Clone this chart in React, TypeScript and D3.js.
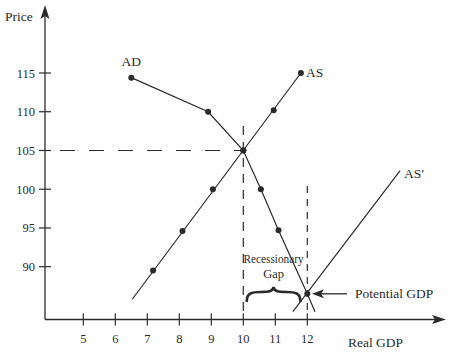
import React from "react";
import * as d3 from "d3";

const xTicks = [5, 6, 7, 8, 9, 10, 11, 12];
const yTicks = [90, 95, 100, 105, 110, 115];

// Aggregate demand curve (gdp, price)
const adLine: [number, number][] = [
  [6.5, 114.4], [8.9, 110], [10, 105], [10.55, 100], [11.1, 94.7], [12, 86.5], [12.24, 84.2],
];
const adPoints: [number, number][] = [
  [6.5, 114.4], [8.9, 110], [10, 105], [10.55, 100], [11.1, 94.7],
];
// Aggregate supply curve
const asLine: [number, number][] = [[6.53, 85.8], [11.8, 115]];
const asPoints: [number, number][] = [
  [7.18, 89.5], [8.1, 94.6], [9.05, 100], [10, 105], [10.95, 110.2], [11.8, 115],
];
// Shifted aggregate supply AS'
const as2Line: [number, number][] = [[11.55, 84.2], [14.9, 102.4]];
const potential: [number, number] = [12, 86.5];
const equilibrium: [number, number] = [10, 105];

const W = 450;
const H = 352;
const FONT = "'Liberation Serif', 'DejaVu Serif', serif";
const INK = "#2b2b2b";

export default function App() {
  const x = d3.scaleLinear().domain([5, 12]).range([83.3, 307.3]);
  const y = d3.scaleLinear().domain([90, 115]).range([266.7, 73]);
  const axisX = 45;
  const axisY = 319.5;
  const line = d3.line<[number, number]>().x((d) => x(d[0])).y((d) => y(d[1]));

  const px = x(potential[0]);
  const py = y(potential[1]);
  const ex = x(equilibrium[0]);
  const ey = y(equilibrium[1]);

  // Brace geometry (x positions from scale)
  const b0 = x(10) + 3.5;
  const b1 = x(12) - 7;
  const bm = (b0 + b1) / 2;
  const bt = 287;
  const bb = 301;
  const brace = `M${b0},${bb} C${b0},${bb - 8} ${b0 + 5},${bb - 9} ${b0 + 14},${bb - 9} C${bm - 4},${bb - 9} ${bm - 0.5},${bb - 10} ${bm},${bt} C${bm + 0.5},${bb - 10} ${bm + 4},${bb - 9} ${b1 - 14},${bb - 9} C${b1 - 5},${bb - 9} ${b1},${bb - 8} ${b1},${bb}`;

  return (
    <svg width={W} height={H} style={{ position: "absolute", left: 0, top: 0, background: "#fff" }} fontFamily={FONT}>
      {/* axes */}
      <line x1={axisX} y1={axisY} x2={437} y2={axisY} stroke={INK} strokeWidth={1.3} />
      <path d={`M446,${axisY} L432,${axisY - 4.5} L435,${axisY} L432,${axisY + 4.5} Z`} fill={INK} />
      <line x1={axisX} y1={axisY} x2={axisX} y2={14} stroke={INK} strokeWidth={1.3} />
      <path d={`M${axisX},5 L${axisX - 4.5},19 L${axisX},16 L${axisX + 4.5},19 Z`} fill={INK} />

      {/* y ticks */}
      {yTicks.map((t) => (
        <g key={t}>
          <line x1={axisX - 6} x2={axisX + 6} y1={y(t)} y2={y(t)} stroke={INK} strokeWidth={1.2} />
          <text x={35} y={y(t) + 4.5} textAnchor="end" fontSize={12.5} fill={INK}>{t}</text>
        </g>
      ))}
      {/* x ticks */}
      {xTicks.map((t) => (
        <g key={t}>
          <line x1={x(t)} x2={x(t)} y1={axisY - 6} y2={axisY + 6} stroke={INK} strokeWidth={1.2} />
          <text x={x(t)} y={343} textAnchor="middle" fontSize={12.5} fill={INK}>{t}</text>
        </g>
      ))}
      <text x={5} y={21} fontSize={13.5} fill={INK}>Price</text>
      <text x={348} y={347} fontSize={13.5} fill={INK}>Real GDP</text>

      {/* dashed guides */}
      <line x1={60} y1={ey} x2={ex} y2={ey} stroke={INK} strokeWidth={1.2} strokeDasharray="15 14" />
      <line x1={ex} y1={126} x2={ex} y2={315} stroke={INK} strokeWidth={1.2} strokeDasharray="9 7" />
      <line x1={px} y1={186} x2={px} y2={315} stroke={INK} strokeWidth={1.2} strokeDasharray="7 6" />

      {/* curves */}
      <path d={line(adLine) || ""} fill="none" stroke={INK} strokeWidth={1.2} />
      <path d={line(asLine) || ""} fill="none" stroke={INK} strokeWidth={1.2} />
      <path d={line(as2Line) || ""} fill="none" stroke={INK} strokeWidth={1.2} />

      {adPoints.concat(asPoints).map((p, i) => (
        <circle key={i} cx={x(p[0])} cy={y(p[1])} r={3} fill={INK} />
      ))}
      <circle cx={px} cy={py} r={3} fill={INK} />

      {/* labels */}
      <text x={x(adPoints[0][0])} y={66} textAnchor="middle" fontSize={13.5} fill={INK}>AD</text>
      <text x={x(asPoints[5][0]) + 5} y={77} fontSize={13.5} fill={INK}>AS</text>
      <text x={x(as2Line[1][0]) + 4} y={178} fontSize={13.5} fill={INK}>AS′</text>

      {/* recessionary gap */}
      <text x={bm} y={263} textAnchor="middle" fontSize={12.5} fill={INK} textLength={60} lengthAdjust="spacingAndGlyphs">Recessionary</text>
      <text x={bm} y={278} textAnchor="middle" fontSize={12.5} fill={INK}>Gap</text>
      <path d={brace} fill="none" stroke={INK} strokeWidth={2.6} strokeLinecap="round" />

      {/* potential GDP arrow */}
      <line x1={347} y1={py} x2={318} y2={py} stroke={INK} strokeWidth={1.3} />
      <path d={`M312,${py} L324,${py - 4.5} L321,${py} L324,${py + 4.5} Z`} fill={INK} />
      <text x={355} y={py + 4.5} fontSize={13.5} fill={INK}>Potential GDP</text>
    </svg>
  );
}
